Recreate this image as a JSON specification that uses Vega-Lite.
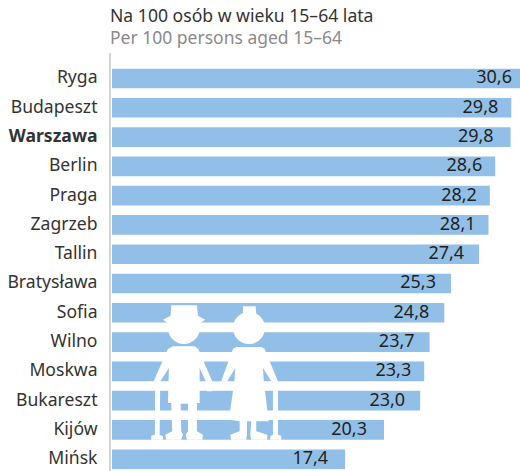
{
"$schema":"https://vega.github.io/schema/vega-lite/v6.json",
"width":408,"height":418,
"autosize":{"type":"none"},
"padding":{"left":112,"top":53,"right":0,"bottom":0},
"background":"white",
"config":{"view":{"stroke":null}},
"title":{"text":"Na 100 osób w wieku 15–64 lata","subtitle":"Per 100 persons aged 15–64","anchor":"start","frame":"group","font":"Noto Sans","fontSize":17.6,"fontWeight":"normal","color":"#333333","subtitleFont":"Noto Sans","subtitleFontSize":17.5,"subtitleColor":"#8a8a8a","subtitlePadding":4,"dx":-2,"offset":5},
"datasets":{"rows":[
{"city":"Ryga","value":30.6,"label":"30,6","gap":"a"},
{"city":"Budapeszt","value":29.8,"label":"29,8","gap":"b"},
{"city":"Warszawa","value":29.75,"label":"29,8","gap":"d"},
{"city":"Berlin","value":28.6,"label":"28,6","gap":"b"},
{"city":"Praga","value":28.2,"label":"28,2","gap":"b"},
{"city":"Zagrzeb","value":28.1,"label":"28,1","gap":"b"},
{"city":"Tallin","value":27.4,"label":"27,4","gap":"c"},
{"city":"Bratysława","value":25.3,"label":"25,3","gap":"c"},
{"city":"Sofia","value":24.8,"label":"24,8","gap":"c"},
{"city":"Wilno","value":23.7,"label":"23,7","gap":"c"},
{"city":"Moskwa","value":23.3,"label":"23,3","gap":"b"},
{"city":"Bukareszt","value":23.0,"label":"23,0","gap":"c"},
{"city":"Kijów","value":20.3,"label":"20,3","gap":"d"},
{"city":"Mińsk","value":17.4,"label":"17,4","gap":"d"}
],
"people":[{"figure":"man","city":"Moskwa","value":5.37},{"figure":"woman","city":"Moskwa","value":10.22}]},
"data":{"name":"rows"},
"encoding":{
"y":{"field":"city","type":"nominal","sort":null,"title":null,
"scale":{"range":[10.85,420.85],"paddingInner":0.33,"paddingOuter":0.165},
"axis":{"domain":false,"ticks":false,"labelFont":"Noto Sans","labelFontSize":17.6,"labelColor":"#333333","labelPadding":15,"labelFontWeight":{"condition":{"test":"datum.value==='Warszawa'","value":"bold"},"value":"normal"}}},
"x":{"field":"value","type":"quantitative","title":null,"scale":{"domain":[0,30.45],"clamp":true},"axis":null}
},
"layer":[
{"mark":{"type":"bar","color":"#92bfe7"}},
{"data":{"values":[{"v":0}]},"mark":{"type":"rule","color":"#d4d4d4","strokeWidth":2,"xOffset":-2},"encoding":{"x":{"field":"v","type":"quantitative","scale":{"domain":[0,30.45]},"axis":null},"y":null}},
{"data":{"name":"people"},"mark":{"type":"point","filled":true,"opacity":1,"size":4,"color":"white"},"encoding":{"shape":{"field":"figure","type":"nominal","legend":null,"scale":{"domain":["man","woman"],"range":[
"M-12.7,-66L13,-66L14,-55.7L21.3,-51.7L15.7,-48L-16,-48L-21,-51.7L-13.3,-55.7ZM-16,-43.3A16,16 0 1 1 16,-43.3A16,16 0 1 1 -16,-43.3ZM-11,-25L10.7,-25L14.3,-22.3L28.3,10L28.3,20L23,20L21.7,10L15.7,-3.3L15.7,31.7L13,31.7L13,60L19,63.3L18.3,68.3L3,68.3L1.7,63.3L4,60L4,32.3L-3.3,32.3L-2.7,60L-1,63.3L-2.7,68.3L-17.7,68.3L-18.7,63.3L-11.7,60L-12.7,31.7L-16,31.7L-15,-3.3L-23.7,10L-24.3,63.3L-21,65L-21,68.3L-32.7,68.3L-32.7,64.3L-29,63.3L-29,10L-30.3,10L-16,-22.3Z",
"M-6,-65L6.7,-65L7.3,-57.7L-6,-57.7ZM-16,-43.3A16,16 0 1 1 16,-43.3A16,16 0 1 1 -16,-43.3ZM-12.7,-24.3L12.7,-24.3L15.7,-22.3L29,10L29,63.3L32.3,64.3L32.3,68.3L21.3,68.3L21.3,65L24,63.3L24,10L22.3,10L14,-3.3L14.7,8L19.7,50L7.3,50L7.3,60L18.3,63.3L18.3,68.3L2.3,68.3L1.3,63.3L2.3,50L-2,50L-2,63.3L-2.7,68.3L-17.7,68.3L-18.7,63.3L-9.3,60L-9.3,50L-20,48.3L-14.3,8L-13.7,-3.3L-21.7,10L-27.7,10L-16,-22.3Z"
]}}}},
{"transform":[{"filter":"datum.gap==='a'"}],"mark":{"type":"text","align":"right","dx":-8,"font":"Noto Sans","fontSize":18,"color":"#231f20"},"encoding":{"text":{"field":"label"}}},
{"transform":[{"filter":"datum.gap==='b'"}],"mark":{"type":"text","align":"right","dx":-13,"font":"Noto Sans","fontSize":18,"color":"#231f20"},"encoding":{"text":{"field":"label"}}},
{"transform":[{"filter":"datum.gap==='c'"}],"mark":{"type":"text","align":"right","dx":-15,"font":"Noto Sans","fontSize":18,"color":"#231f20"},"encoding":{"text":{"field":"label"}}},
{"transform":[{"filter":"datum.gap==='d'"}],"mark":{"type":"text","align":"right","dx":-17,"font":"Noto Sans","fontSize":18,"color":"#231f20"},"encoding":{"text":{"field":"label"}}}
]
}
